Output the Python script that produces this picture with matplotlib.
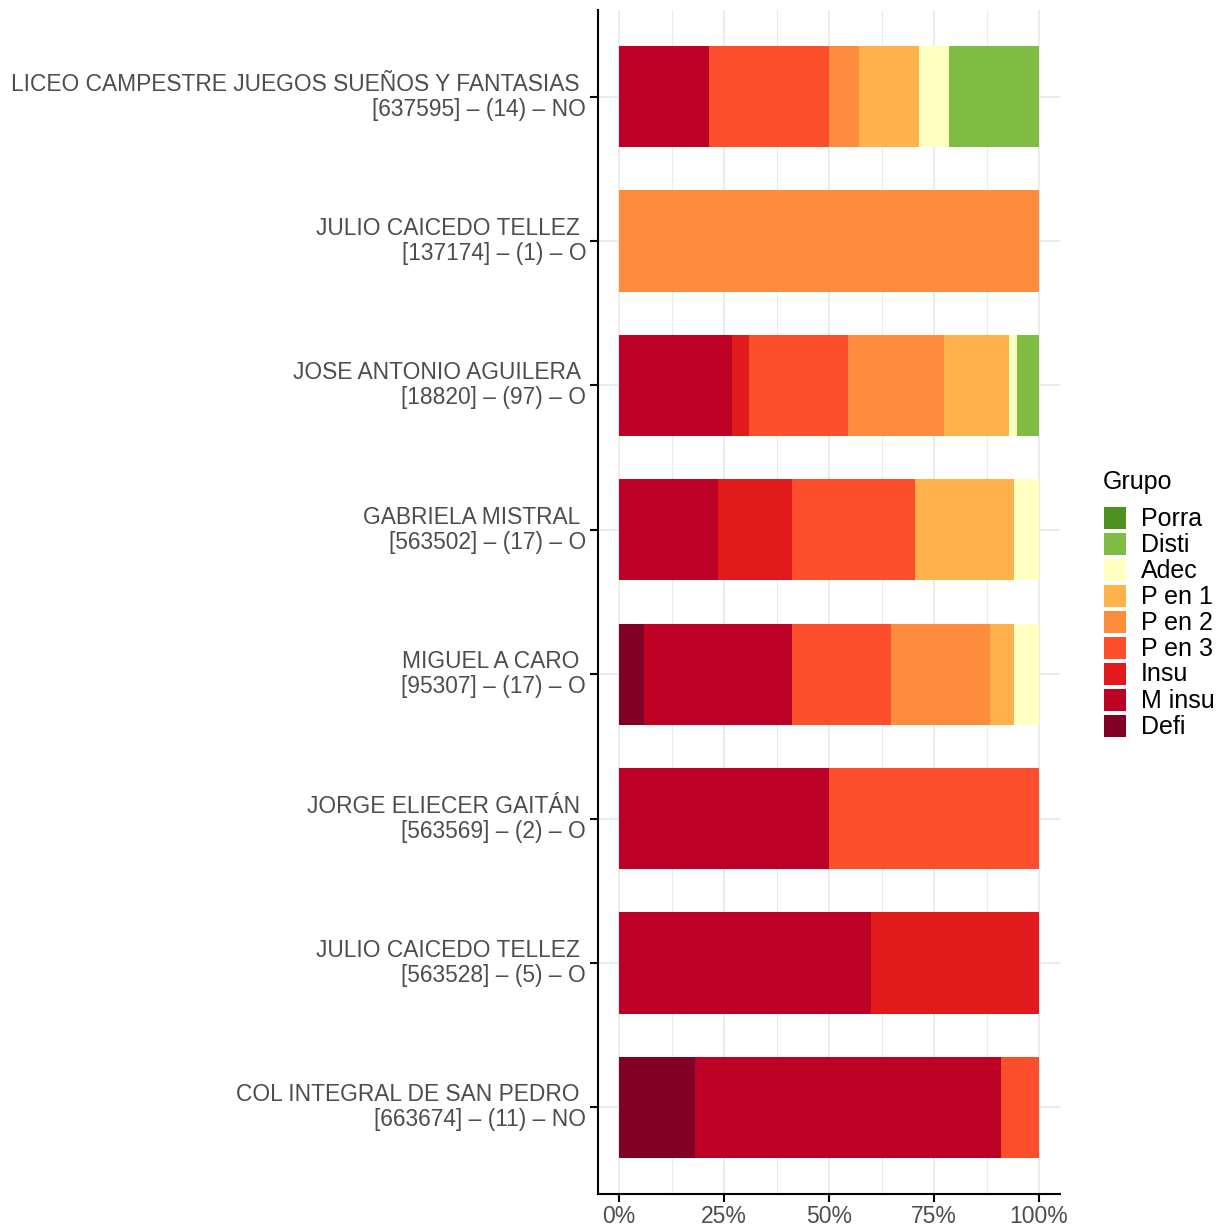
import matplotlib
matplotlib.use("Agg")
import matplotlib.pyplot as plt
import matplotlib.transforms as mtransforms
from matplotlib.patches import Rectangle
import numpy as np

plt.rcParams['font.family'] = ['Liberation Sans', 'DejaVu Sans']

schools = [
    "LICEO CAMPESTRE JUEGOS SUEÑOS Y FANTASIAS \n[637595] – (14) – NO",
    "JULIO CAICEDO TELLEZ \n[137174] – (1) – O",
    "JOSE ANTONIO AGUILERA \n[18820] – (97) – O",
    "GABRIELA MISTRAL \n[563502] – (17) – O",
    "MIGUEL A CARO \n[95307] – (17) – O",
    "JORGE ELIECER GAITÁN \n[563569] – (2) – O",
    "JULIO CAICEDO TELLEZ \n[563528] – (5) – O",
    "COL INTEGRAL DE SAN PEDRO \n[663674] – (11) – NO",
]

groups = ["Defi", "M insu", "Insu", "P en 3", "P en 2", "P en 1", "Adec", "Disti", "Porra"]
colors = ["#800026", "#BD0026", "#E31A1C", "#FC4E2A", "#FD8D3C", "#FEB24C", "#FFFFC0", "#7FBC41", "#4D9221"]

# counts per school, in order of groups
defi   = [0, 0, 0, 0, 1, 0, 0, 2]
m_insu = [3, 0, 26, 4, 6, 1, 3, 8]
insu   = [0, 0, 4, 3, 0, 0, 2, 0]
p_en3  = [4, 0, 23, 5, 4, 1, 0, 1]
p_en2  = [1, 1, 22, 0, 4, 0, 0, 0]
p_en1  = [2, 0, 15, 4, 1, 0, 0, 0]
adec   = [1, 0, 2, 1, 1, 0, 0, 0]
disti  = [3, 0, 5, 0, 0, 0, 0, 0]
porra  = [0, 0, 0, 0, 0, 0, 0, 0]

counts = np.array([defi, m_insu, insu, p_en3, p_en2, p_en1, adec, disti, porra], dtype=float)
props = counts / counts.sum(axis=0)

W, H = 1224, 1227
fig = plt.figure(figsize=(W / 100, H / 100), dpi=100)
ax = fig.add_axes([598/W, 1 - 1194/H, (1060 - 598)/W, (1194 - 10)/H])

n = len(schools)
ypos = np.arange(n)[::-1]  # first school on top
left = np.zeros(n)
for gi, g in enumerate(groups):
    ax.barh(ypos, props[gi], left=left, height=0.7, color=colors[gi], linewidth=0, zorder=2)
    left += props[gi]

ax.set_xlim(-0.05, 1.05)
ax.set_ylim(-0.6, n - 1 + 0.6)

ax.set_xticks([0, 0.25, 0.5, 0.75, 1.0])
ax.set_xticklabels(["0%", "25%", "50%", "75%", "100%"])
ax.set_xticks([0.125, 0.375, 0.625, 0.875], minor=True)
ax.set_yticks(ypos)
ax.set_yticklabels(schools, ha='right', va='center', multialignment='right', linespacing=1.12)
offset = mtransforms.ScaledTranslation(0, -2.5 / 100, fig.dpi_scale_trans)
for lab in ax.get_yticklabels():
    lab.set_transform(lab.get_transform() + offset)

ax.grid(True, which='major', color='#EBEBEB', linewidth=1.4, zorder=0)
ax.grid(True, which='minor', axis='x', color='#EBEBEB', linewidth=0.8, zorder=0)
ax.set_axisbelow(True)

for s in ['top', 'right']:
    ax.spines[s].set_visible(False)
for s in ['left', 'bottom']:
    ax.spines[s].set_color('black')
    ax.spines[s].set_linewidth(1.5)

ax.tick_params(axis='both', which='major', length=6, width=1.5, color='black',
               labelcolor='#4D4D4D')
ax.tick_params(axis='y', which='major', labelsize=16.4, pad=2.5)
ax.tick_params(axis='x', which='major', labelsize=16.5, pad=2)
ax.tick_params(axis='x', which='minor', length=0)

# legend drawn manually (ggplot style)
fig.text(1103/W, 1 - 482/H, "Grupo", fontsize=18, color='black', ha='left', va='center')
legend_order = list(range(len(groups) - 1, -1, -1))
for k, gi in enumerate(legend_order):
    top = 507 + 26 * k
    fig.add_artist(Rectangle((1104/W, 1 - (top + 22)/H), 22/W, 22/H,
                             facecolor=colors[gi], edgecolor='none', transform=fig.transFigure))
    fig.text(1141/W, 1 - (top + 11.5)/H, groups[gi], fontsize=18, color='black',
             ha='left', va='center')

fig.savefig("out.png", dpi=100)
